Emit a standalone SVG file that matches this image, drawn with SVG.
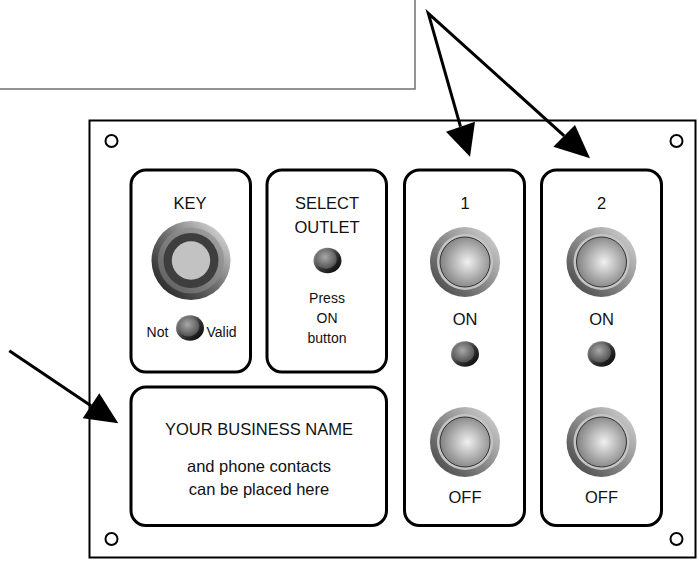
<svg xmlns="http://www.w3.org/2000/svg" width="699" height="563" viewBox="0 0 699 563">
<defs>
<linearGradient id="btnOuter" x1="0" y1="1" x2="1" y2="0">
<stop offset="0" stop-color="#3c3c3c"/><stop offset="0.5" stop-color="#8c8c8c"/><stop offset="1" stop-color="#dcdcdc"/>
</linearGradient>
<radialGradient id="btnInner" cx="0.55" cy="0.5" r="0.6">
<stop offset="0" stop-color="#f0f0f0"/><stop offset="1" stop-color="#777"/>
</radialGradient>
<linearGradient id="ledOuter" x1="0" y1="0" x2="1" y2="1">
<stop offset="0" stop-color="#b0b0b0"/><stop offset="0.55" stop-color="#333"/><stop offset="1" stop-color="#000"/>
</linearGradient>
<radialGradient id="ledInner" cx="0.45" cy="0.4" r="0.65">
<stop offset="0" stop-color="#a8a8a8"/><stop offset="1" stop-color="#4a4a4a"/>
</radialGradient>
<linearGradient id="keyOuter" x1="0" y1="1" x2="1" y2="0">
<stop offset="0" stop-color="#151515"/><stop offset="0.5" stop-color="#6e6e6e"/><stop offset="1" stop-color="#f0f0f0"/>
</linearGradient>
<linearGradient id="keyBand" x1="0" y1="1" x2="1" y2="0">
<stop offset="0" stop-color="#5a5a5a"/><stop offset="1" stop-color="#a8a8a8"/>
</linearGradient>
<g id="btn">
<circle r="35" fill="url(#btnOuter)"/>
<circle r="28" fill="#c4c4c4"/>
<circle r="25" fill="url(#btnInner)" stroke="#333" stroke-width="1"/>
</g>
<g id="led">
<ellipse rx="14" ry="12.8" fill="url(#ledOuter)"/>
<ellipse cx="-1.5" cy="-1.5" rx="10.8" ry="10" fill="url(#ledInner)"/>
</g>
</defs>
<style>
text{font-family:"Liberation Sans",Arial,sans-serif;fill:#111;text-anchor:middle}
.big{font-size:16.5px}
.sm{font-size:14px}
.box{fill:#fff;stroke:#000;stroke-width:3}
.hole{fill:#fff;stroke:#000;stroke-width:2}
.arr{fill:none;stroke:#000;stroke-width:3}
</style>
<rect width="699" height="563" fill="#fff"/>
<g id="note">
<rect x="-5" y="-5" width="420" height="94" fill="#fff" stroke="#707070" stroke-width="1.5"/>
</g>
<g id="panel">
<rect x="89.5" y="120.5" width="606" height="437" fill="#fff" stroke="#000" stroke-width="2"/>
<circle class="hole" cx="111.5" cy="141" r="6"/>
<circle class="hole" cx="676.5" cy="141" r="6"/>
<circle class="hole" cx="111.5" cy="539" r="6"/>
<circle class="hole" cx="676.5" cy="539" r="6"/>
</g>
<g id="key">
<rect class="box" x="131" y="170" width="119.5" height="202" rx="15"/>
<text class="big" x="190" y="209">KEY</text>
<circle cx="191" cy="260.5" r="39.5" fill="url(#keyOuter)"/>
<circle cx="191" cy="260.5" r="33" fill="url(#keyBand)"/>
<circle cx="191" cy="260.5" r="27.5" fill="#3e3e3e"/>
<circle cx="191" cy="260.5" r="19.2" fill="#c2c2c2"/>
<use href="#led" x="190" y="328"/>
<text class="sm" x="157.5" y="337">Not</text>
<text class="sm" x="221.5" y="337">Valid</text>
</g>
<g id="select">
<rect class="box" x="267" y="170" width="119.5" height="202" rx="15"/>
<text class="big" x="327" y="209">SELECT</text>
<text class="big" x="327" y="232.5">OUTLET</text>
<use href="#led" x="327.5" y="260.5"/>
<text class="sm" x="327" y="303">Press</text>
<text class="sm" x="327" y="323">ON</text>
<text class="sm" x="327" y="343">button</text>
</g>
<g id="business">
<rect class="box" x="131" y="387" width="255.5" height="138.5" rx="15"/>
<text class="big" x="259" y="435">YOUR BUSINESS NAME</text>
<text class="big" x="259" y="471.5">and phone contacts</text>
<text class="big" x="259" y="495">can be placed here</text>
</g>
<g id="outlet1">
<rect class="box" x="404.5" y="170" width="120" height="355.5" rx="15"/>
<text class="big" x="465" y="209">1</text>
<use href="#btn" x="465" y="262"/>
<text class="big" x="465" y="325">ON</text>
<use href="#led" x="465" y="354"/>
<use href="#btn" x="465" y="442"/>
<text class="big" x="465" y="503">OFF</text>
</g>
<g id="outlet2">
<rect class="box" x="541.5" y="170" width="120" height="355.5" rx="15"/>
<text class="big" x="601.5" y="209">2</text>
<use href="#btn" x="601.5" y="262"/>
<text class="big" x="601.5" y="325">ON</text>
<use href="#led" x="601.5" y="354"/>
<use href="#btn" x="601.5" y="442"/>
<text class="big" x="601.5" y="503">OFF</text>
</g>
<g id="connectors">
<path class="arr" d="M460.5,126.7 L428.3,13.3 L564.2,135.8" stroke-linejoin="miter"/>
<polygon points="470,156.7 446,131.7 475,121.7" fill="#000"/>
<polygon points="590,158.3 553.3,146.7 575,125" fill="#000"/>
<path class="arr" d="M9.3,350.7 L91,405.8"/>
<polygon points="118.3,423.3 82.7,418.3 99.3,393.3" fill="#000"/>
</g>
</svg>
